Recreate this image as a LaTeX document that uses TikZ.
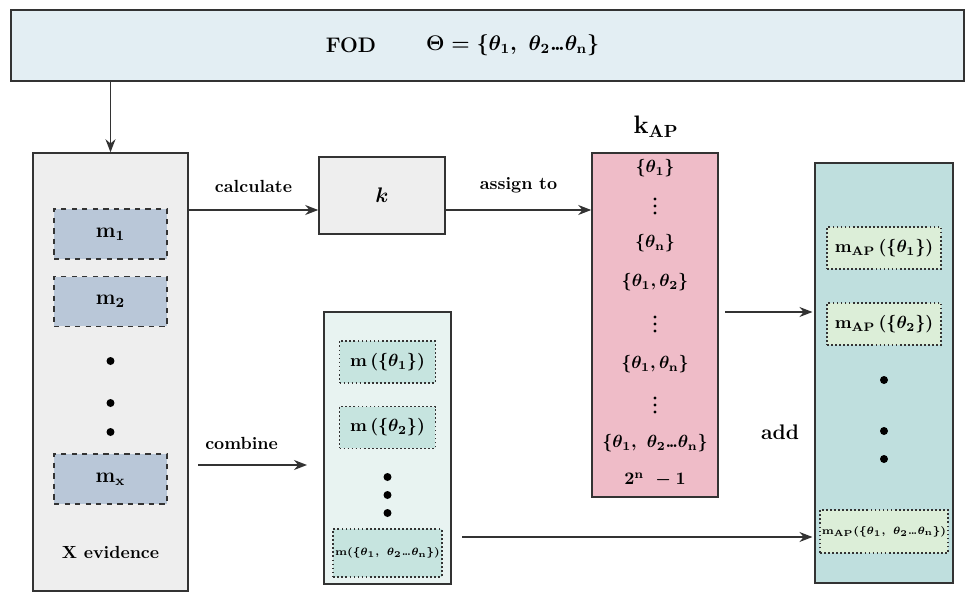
\documentclass[tikz,border=0pt]{standalone}
\usepackage{amsmath}
\usepackage{tikz}
\usetikzlibrary{positioning, arrows.meta, calc}
\definecolor{fodbg}{HTML}{E3EEF3}
\definecolor{evbg}{HTML}{EEEEEE}
\definecolor{mfill}{HTML}{B9C7D8}
\definecolor{combg}{HTML}{E8F3F1}
\definecolor{comin}{HTML}{C6E4DF}
\definecolor{kapbg}{HTML}{EFBCC8}
\definecolor{apbg}{HTML}{BFDFDE}
\definecolor{apin}{HTML}{DCEED8}
\definecolor{edge}{HTML}{333333}

\newcommand{\thn}{\theta_{\mathrm{n}}}
\newcommand{\tdots}{{.}\mkern-2mu{.}\mkern-2mu{.}}

\begin{document}
\begin{tikzpicture}[x=0.02cm, y=-0.02cm,
  every node/.style={font=\bfseries\boldmath},
  panel/.style={draw=edge, line width=0.9pt},
  entry/.style={inner sep=0pt},
  vdotsym/.style={minimum width=0.2cm, minimum height=0.5cm, inner sep=0pt,
                  path picture={\foreach \d in {-7,0,7}
                    \fill ([yshift=\d*0.02cm]path picture bounding box.center) circle (0.9pt);}},
  mslot/.style={draw=edge, dashed, line width=0.8pt, fill=mfill,
                minimum width=2.26cm, minimum height=1.0cm, font=\large\bfseries\boldmath},
  cslot/.style={draw=edge, line width=1pt, dash pattern=on 1pt off 1.3pt, fill=comin,
                minimum width=1.92cm, minimum height=0.84cm, inner sep=1pt},
  aslot/.style={cslot, fill=apin, minimum width=2.28cm},
  small/.style={font=\fontsize{6}{7}\selectfont\bfseries\boldmath},
  ellip/.style={circle, fill=black, inner sep=0pt, minimum size=0.16cm},
  arr/.style={-{Stealth[length=2.6mm, width=2mm]}, line width=0.8pt, draw=edge}]
  \useasboundingbox (0,0) rectangle (965,592);

  % frame of discernment
  \node[panel, fill=fodbg, minimum width=19.06cm, minimum height=1.42cm] (fod) at (487.5,45.5) {};
  \node[font=\large\bfseries] (fodname) at (351,45) {FOD};
  \node[anchor=west, font=\large\bfseries\boldmath] (fodset) at (420,45)
    {$\Theta=\{\theta_1,\ \theta_2\tdots\thn\}$};

  % evidence column
  \node[panel, fill=evbg, minimum width=3.1cm, minimum height=8.76cm] (ev) at (110.5,372) {};
  \node[mslot] (m1) at (110.5,234)   {$\mathbf{m}_1$};
  \node[mslot] (m2) at (110.5,301.5) {$\mathbf{m}_2$};
  \node[ellip] (e1) at (110.5,361) {};
  \node[ellip] (e2) at (110.5,403) {};
  \node[ellip] (e3) at (110.5,432) {};
  \node[mslot] (mx) at (110.5,479)   {$\mathbf{m}_{\mathbf{x}}$};
  \node (evlabel) at (110.5,552) {X evidence};

  % conflict coefficient
  \node[panel, fill=evbg, minimum width=2.52cm, minimum height=1.54cm, font=\large\boldmath]
    (kbox) at (382,195.5) {$k$};

  % k_AP column
  \node[panel, fill=kapbg, minimum width=2.52cm, minimum height=6.88cm] (kap) at (655,325) {};
  \node[font=\Large\bfseries\boldmath] (kaptitle) at (656,127) {$\mathbf{k}_{\mathbf{AP}}$};
  \node[entry] (s1) at (655,168) {$\{\theta_1\}$};
  \node[vdotsym] (v1) at (655,206) {};
  \node[entry] (s2) at (655,243) {$\{\thn\}$};
  \node[entry] (s3) at (655,282) {$\{\theta_1,\theta_2\}$};
  \node[vdotsym] (v2) at (655,324) {};
  \node[entry] (s4) at (655,364) {$\{\theta_1,\thn\}$};
  \node[vdotsym] (v3) at (655,405) {};
  \node[entry] (s5) at (655,443) {$\{\theta_1,\ \theta_2\tdots\thn\}$};
  \node[entry] (s6) at (655,480) {$2^{\mathrm{n}}\ -1$};

  % combined masses
  \node[panel, fill=combg, minimum width=2.54cm, minimum height=5.44cm] (comb) at (387.5,448) {};
  \node[cslot] (c1) at (387.5,362)   {$\mathbf{m}\,(\{\theta_1\})$};
  \node[cslot] (c2) at (387.5,427.5) {$\mathbf{m}\,(\{\theta_2\})$};
  \node[ellip] (ce1) at (387.5,477) {};
  \node[ellip] (ce2) at (387.5,495) {};
  \node[ellip] (ce3) at (387.5,513) {};
  \node[cslot, small, minimum height=0.96cm] (c3) at (387.5,553)
    {$\mathbf{m}(\{\theta_1,\ \theta_2\tdots\thn\})$};

  % adjusted masses
  \node[panel, fill=apbg, minimum width=2.76cm, minimum height=8.4cm] (ap) at (884,373) {};
  \node[aslot] (a1) at (884,248) {$\mathbf{m}_{\mathbf{AP}}\,(\{\theta_1\})$};
  \node[aslot] (a2) at (884,324) {$\mathbf{m}_{\mathbf{AP}}\,(\{\theta_2\})$};
  \node[ellip] (ae1) at (884,380) {};
  \node[ellip] (ae2) at (884,431) {};
  \node[ellip] (ae3) at (884,459) {};
  \node[aslot, small, minimum height=0.86cm] (a3) at (884,531.5)
    {$\mathbf{m}_{\mathbf{AP}}(\{\theta_1,\ \theta_2\tdots\thn\})$};
  \node[font=\large\bfseries] (addlabel) at (780,432) {add};

  % connectors
  \coordinate (cy) at (0,210);
  \coordinate (cs) at (198,465);
  \coordinate (ce) at (307,465);
  \coordinate (ay) at (725,312);
  \coordinate (by) at (462,537);
  \draw[arr] (fod.south -| ev.north) -- (ev.north);
  \draw[arr] (ev.east |- cy) -- node[above=6pt] {calculate} (kbox.west |- cy);
  \draw[arr] (kbox.east |- cy) -- node[above=6pt] {assign to} (kap.west |- cy);
  \draw[arr] (cs) -- node[above=5pt, pos=0.4] {combine} (ce);
  \draw[arr, shorten >=1pt] (ay) -- (ap.west |- ay);
  \draw[arr, shorten >=1pt] (by) -- (ap.west |- by);
\end{tikzpicture}
\end{document}
